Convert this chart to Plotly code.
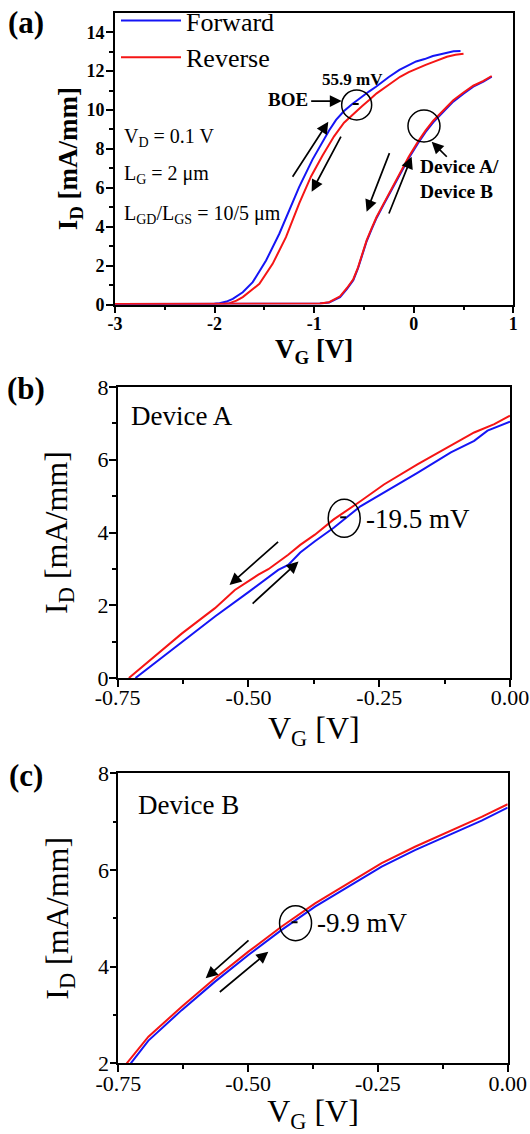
import plotly.graph_objects as go

# ---------------- data ----------------
# Panel (a): BOE-treated device
a_boe_fwd_vg = [-3.0, -2.5, -2.0, -1.95, -1.88, -1.817, -1.717, -1.617, -1.483, -1.35, -1.267, -1.15,
                -1.017, -0.92, -0.85, -0.78, -0.70, -0.62, -0.547, -0.45, -0.379, -0.25, -0.144, -0.05,
                0.024, 0.11, 0.192, 0.26, 0.326, 0.40, 0.47]
a_boe_fwd_id = [0.03, 0.03, 0.04, 0.07, 0.15, 0.29, 0.63, 1.15, 2.26, 3.64, 4.67, 6.05,
                7.45, 8.35, 8.95, 9.49, 9.95, 10.3, 10.6, 10.95, 11.2, 11.7, 12.06, 12.3,
                12.5, 12.62, 12.78, 12.86, 12.95, 13.02, 13.03]
a_boe_rev_vg = [-3.0, -2.0, -1.9, -1.85, -1.78, -1.717, -1.62, -1.55, -1.417, -1.283, -1.15, -1.03,
                -0.917, -0.8, -0.7, -0.6, -0.52, -0.45, -0.372, -0.25, -0.137, -0.05, 0.031, 0.12,
                0.199, 0.27, 0.333, 0.42, 0.5]
a_boe_rev_id = [0.02, 0.02, 0.04, 0.07, 0.2, 0.38, 0.75, 1.06, 2.09, 3.46, 5.2, 6.6,
                7.65, 8.65, 9.35, 9.85, 10.2, 10.5, 10.86, 11.3, 11.71, 11.95, 12.14, 12.32,
                12.48, 12.62, 12.74, 12.84, 12.9]
# Panel (a): Device A / Device B
a_dev_vg = [-3.0, -1.0, -0.942, -0.85, -0.74, -0.67, -0.607, -0.56, -0.52, -0.473, -0.42, -0.373,
            -0.306, -0.239, -0.139, -0.05, 0.04, 0.12, 0.196, 0.3, 0.397, 0.5, 0.598, 0.7, 0.783]
a_dev_fwd_id = [0.02, 0.02, 0.05, 0.1, 0.38, 0.8, 1.25, 1.85, 2.45, 3.25, 3.9, 4.45,
                5.1, 5.74, 6.68, 7.52, 8.27, 8.87, 9.37, 9.92, 10.43, 10.84, 11.2, 11.46, 11.72]
a_dev_rev_id = [0.02, 0.02, 0.05, 0.12, 0.42, 0.85, 1.3, 1.9, 2.5, 3.3, 3.95, 4.5,
                5.15, 5.8, 6.75, 7.6, 8.35, 8.95, 9.45, 10.0, 10.5, 10.9, 11.25, 11.5, 11.75]

# Panel (b): Device A
b_fwd_vg = [-0.716, -0.6277, -0.564, -0.5, -0.443, -0.424, -0.401, -0.373, -0.337, -0.286,
            -0.241, -0.177, -0.113, -0.0685, -0.043, 0.0]
b_fwd_id = [0.0, 0.99, 1.69, 2.36, 2.97, 3.11, 3.45, 3.76, 4.13, 4.72,
            5.09, 5.64, 6.2, 6.52, 6.8, 7.05]
b_rev_vg = [-0.7286, -0.6277, -0.564, -0.526, -0.481, -0.462, -0.424, -0.401, -0.373, -0.337,
            -0.286, -0.241, -0.177, -0.113, -0.0685, -0.03, 0.0]
b_rev_id = [0.0, 1.22, 1.92, 2.42, 2.84, 2.99, 3.39, 3.66, 3.94, 4.36,
            4.86, 5.32, 5.87, 6.38, 6.75, 6.98, 7.21]

# Panel (c): Device B
c_fwd_vg = [-0.726, -0.692, -0.6279, -0.5637, -0.4995, -0.4353, -0.371, -0.3069, -0.2427,
            -0.1786, -0.1144, -0.0502, 0.0]
c_fwd_id = [2.0, 2.47, 3.10, 3.69, 4.24, 4.76, 5.24, 5.66, 6.07, 6.41, 6.72, 7.02, 7.29]
c_rev_vg = [-0.7338, -0.692, -0.6279, -0.5637, -0.4995, -0.4353, -0.371, -0.3069, -0.2427,
            -0.1786, -0.1144, -0.0502, 0.0]
c_rev_id = [2.0, 2.55, 3.17, 3.76, 4.31, 4.83, 5.31, 5.72, 6.14, 6.48, 6.79, 7.10, 7.36]

# tick labels
a_xticks = [-3, -2, -1, 0, 1]
a_xticklabels = ["-3", "-2", "-1", "0", "1"]
a_yticks = [0, 2, 4, 6, 8, 10, 12, 14]
a_yticklabels = ["0", "2", "4", "6", "8", "10", "12", "14"]
bc_xticks = [-0.75, -0.5, -0.25, 0.0]
bc_xticklabels = ["-0.75", "-0.50", "-0.25", "0.00"]
b_yticks = [0, 2, 4, 6, 8]
b_yticklabels = ["0", "2", "4", "6", "8"]
c_yticks = [2, 4, 6, 8]
c_yticklabels = ["2", "4", "6", "8"]

# ---------------- styling ----------------
W, H = 530, 1134
FONT = "Liberation Serif"
BLUE = "#1515F5"
RED = "#F51515"


def px(x):
    return x / W


def py(y):
    return 1 - y / H


fig = go.Figure()


def add_pair(xa, ya, fx, fy, rx, ry, legend=False):
    fig.add_trace(go.Scatter(x=fx, y=fy, xaxis=xa, yaxis=ya, mode="lines",
                             line=dict(color=BLUE, width=2), name="Forward",
                             legendgroup="f", showlegend=legend))
    fig.add_trace(go.Scatter(x=rx, y=ry, xaxis=xa, yaxis=ya, mode="lines",
                             line=dict(color=RED, width=2), name="Reverse",
                             legendgroup="r", showlegend=legend))


add_pair("x", "y", a_boe_fwd_vg, a_boe_fwd_id, a_boe_rev_vg, a_boe_rev_id, legend=True)
add_pair("x", "y", a_dev_vg, a_dev_fwd_id, a_dev_vg, a_dev_rev_id)
add_pair("x2", "y2", b_fwd_vg, b_fwd_id, b_rev_vg, b_rev_id)
add_pair("x3", "y3", c_fwd_vg, c_fwd_id, c_rev_vg, c_rev_id)

axis_common = dict(showline=True, linecolor="black", linewidth=1.6, mirror=True,
                   ticks="outside", ticklen=7, tickwidth=1.5, tickcolor="black",
                   showgrid=False, zeroline=False, tickmode="array")

bold_tick = dict(family=FONT, size=18, color="black", weight="bold")
reg_tick = dict(family=FONT, size=22, color="black")


def minor(vals):
    return dict(tickvals=vals, ticks="outside", ticklen=4, tickwidth=1.5, tickcolor="black")


layout_axes = dict(
    xaxis=dict(axis_common, domain=[px(115), px(513.3)], anchor="y", range=[-3, 1],
               tickvals=a_xticks, ticktext=a_xticklabels, tickfont=bold_tick,
               ticklabelstandoff=-5, minor=minor([-2.5, -1.5, -0.5, 0.5]),
               title=dict(text="<b>V<sub>G</sub> [V]</b>", standoff=4,
                          font=dict(family=FONT, size=27, color="black", weight="bold"))),
    yaxis=dict(axis_common, domain=[py(304.5), py(12.8)], anchor="x", range=[0, 15],
               tickvals=a_yticks, ticktext=a_yticklabels, tickfont=bold_tick,
               ticklabelstandoff=-2, minor=minor([1, 3, 5, 7, 9, 11, 13]),
               title=dict(text="<b>I<sub>D</sub> [mA/mm]</b>", standoff=1,
                          font=dict(family=FONT, size=27, color="black", weight="bold"))),
    xaxis2=dict(axis_common, domain=[px(117.7), px(510)], anchor="y2", range=[-0.75, 0],
                tickvals=bc_xticks, ticktext=bc_xticklabels, tickfont=reg_tick,
                ticklabelstandoff=-8, minor=minor([-0.625, -0.375, -0.125]),
                title=dict(text="V<sub>G</sub> [V]", standoff=4,
                           font=dict(family=FONT, size=32, color="black"))),
    yaxis2=dict(axis_common, domain=[py(678), py(387)], anchor="x2", range=[0, 8],
                tickvals=b_yticks, ticktext=b_yticklabels, tickfont=reg_tick,
                ticklabelstandoff=-4, minor=minor([1, 3, 5, 7]),
                title=dict(text="I<sub>D</sub> [mA/mm]", standoff=20,
                           font=dict(family=FONT, size=32, color="black"))),
    xaxis3=dict(axis_common, domain=[px(118.3), px(507.7)], anchor="y3", range=[-0.75, 0],
                tickvals=bc_xticks, ticktext=bc_xticklabels, tickfont=reg_tick,
                ticklabelstandoff=-8, minor=minor([-0.625, -0.375, -0.125]),
                title=dict(text="V<sub>G</sub> [V]", standoff=4,
                           font=dict(family=FONT, size=32, color="black"))),
    yaxis3=dict(axis_common, domain=[py(1063.3), py(773.3)], anchor="x3", range=[2, 8],
                tickvals=c_yticks, ticktext=c_yticklabels, tickfont=reg_tick,
                ticklabelstandoff=-4, minor=minor([3, 5, 7]),
                title=dict(text="I<sub>D</sub> [mA/mm]", standoff=20,
                           font=dict(family=FONT, size=32, color="black"))),
)

annotations = []


def arrow(xr, yr, tail, head):
    annotations.append(dict(x=head[0], y=head[1], ax=tail[0], ay=tail[1], xref=xr, yref=yr,
                            axref=xr, ayref=yr, text="", showarrow=True, arrowhead=2,
                            arrowsize=1.4, arrowwidth=1.7, arrowcolor="black",
                            standoff=0, startstandoff=0))


def text(xr, yr, x, y, t, size, bold=False, xanchor="left", yanchor="middle"):
    f = dict(family=FONT, size=size, color="black")
    if bold:
        f["weight"] = "bold"
    annotations.append(dict(x=x, y=y, xref=xr, yref=yr, text=t, showarrow=False,
                            xanchor=xanchor, yanchor=yanchor, align="left", font=f))


# panel labels
for lab, ycen in (("(a)", 22), ("(b)", 388), ("(c)", 775)):
    annotations.append(dict(x=px(26), y=py(ycen), xref="paper", yref="paper", text=lab,
                            showarrow=False, xanchor="center", yanchor="middle",
                            font=dict(family=FONT, size=31, color="black", weight="bold")))

# panel (a) annotations
text("x", "y", -2.933, 8.6, "V<sub>D</sub> = 0.1 V", 20)
text("x", "y", -2.933, 6.66, "L<sub>G</sub> = 2 μm", 20)
text("x", "y", -2.933, 4.64, "L<sub>GD</sub>/L<sub>GS</sub> = 10/5 μm", 20)
text("x", "y", -0.615, 11.58, "55.9 mV", 17, bold=True, xanchor="center")
text("x", "y", -1.045, 10.55, "BOE", 19, bold=True, xanchor="right")
text("x", "y", 0.046, 6.45, "Device A/<br>Device B", 19.5, bold=True)
arrow("x", "y", (-1.045, 10.46), (-0.723, 10.46))
arrow("x", "y", (0.347, 7.52), (0.180, 8.37))
arrow("x", "y", (-1.226, 6.49), (-0.858, 9.40))
arrow("x", "y", (-0.723, 8.71), (-1.025, 5.80))
arrow("x", "y", (-0.238, 7.86), (-0.473, 4.77))
arrow("x", "y", (-0.255, 4.60), (-0.021, 7.60))

# panel (b)
text("x2", "y2", -0.728, 7.21, "Device A", 27)
text("x2", "y2", -0.280, 4.36, "-19.5 mV", 27)
arrow("x2", "y2", (-0.4405, 3.78), (-0.5362, 2.56))
arrow("x2", "y2", (-0.4949, 2.01), (-0.4043, 3.20))

# panel (c)
text("x3", "y3", -0.7166, 7.35, "Device B", 27)
text("x3", "y3", -0.3714, 4.91, "-9.9 mV", 27)
arrow("x3", "y3", (-0.4963, 4.57), (-0.5817, 3.76))
arrow("x3", "y3", (-0.5574, 3.45), (-0.4611, 4.31))

shapes = []


def circle(xr, yr, cx, cy, rx, ry, dash=True):
    shapes.append(dict(type="circle", xref=xr, yref=yr, xsizemode="pixel", ysizemode="pixel",
                       xanchor=cx, yanchor=cy, x0=-rx, x1=rx, y0=-ry, y1=ry,
                       line=dict(color="black", width=1.5)))
    if dash:
        shapes.append(dict(type="line", xref=xr, yref=yr, xsizemode="pixel", ysizemode="pixel",
                           xanchor=cx, yanchor=cy, x0=-4, x1=2, y0=1, y1=1,
                           line=dict(color="black", width=2)))


circle("x", "y", -0.573, 10.26, 15, 15)
circle("x", "y", 0.103, 9.18, 16, 16, dash=False)
circle("x2", "y2", -0.317, 4.39, 16, 19)
circle("x3", "y3", -0.4086, 4.90, 16, 17.5)

fig.update_layout(
    width=W, height=H, template="none",
    margin=dict(l=0, r=0, t=0, b=0, autoexpand=False),
    paper_bgcolor="white", plot_bgcolor="white",
    font=dict(family=FONT, color="black"),
    showlegend=True,
    legend=dict(x=px(116), y=1 + 3 / H, xanchor="left", yanchor="top",
                font=dict(family=FONT, size=26, color="black"),
                bgcolor="rgba(0,0,0,0)", itemwidth=60, tracegroupgap=0),
    annotations=annotations, shapes=shapes,
    **layout_axes,
)

fig.write_html("out.html",
               config={"displayModeBar": False},
               post_script="document.body.style.margin='0px';"
                           "document.body.style.overflow='hidden';")
